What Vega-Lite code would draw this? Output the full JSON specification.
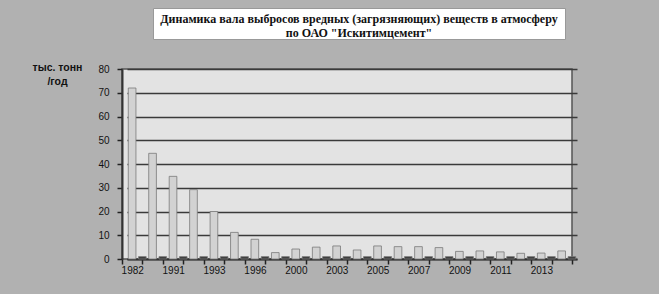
{
  "$schema": "https://vega.github.io/schema/vega-lite/v6.json",
  "background": "#b1b1b1",
  "padding": {"left": 31, "top": 7, "right": 88, "bottom": 23},
  "spacing": 21,
  "config": {"font": "Liberation Sans"},
  "vconcat": [
    {
      "spacing": 0,
      "hconcat": [
        {
          "width": 30,
          "height": 31,
          "data": {"values": []},
          "mark": "text",
          "view": {"stroke": null}
        },
        {
          "width": 412,
          "height": 31,
          "data": {"values": [{"title": "Динамика вала выбросов вредных (загрязняющих) веществ  в атмосферу\nпо  ОАО \"Искитимцемент\""}]},
          "mark": {"type": "text", "font": "Liberation Serif", "fontWeight": "bold", "fontSize": 12, "lineHeight": 14, "lineBreak": "\n", "align": "center", "baseline": "middle", "dy": -5, "color": "#111"},
          "encoding": {"text": {"field": "title"}},
          "view": {"fill": "white", "stroke": "#999999"}
        }
      ]
    },
    {
      "width": 450,
      "height": 190,
      "data": {"values": [
        {"year": 1982, "series": "A", "value": 72},
        {"year": 1990, "series": "A", "value": 44.5},
        {"year": 1991, "series": "A", "value": 34.8},
        {"year": 1992, "series": "A", "value": 29.2},
        {"year": 1993, "series": "A", "value": 20},
        {"year": 1995, "series": "A", "value": 11.2},
        {"year": 1996, "series": "A", "value": 8.3},
        {"year": 1998, "series": "A", "value": 2.7},
        {"year": 2000, "series": "A", "value": 4.2},
        {"year": 2002, "series": "A", "value": 5.0},
        {"year": 2003, "series": "A", "value": 5.5},
        {"year": 2004, "series": "A", "value": 3.8},
        {"year": 2005, "series": "A", "value": 5.5},
        {"year": 2006, "series": "A", "value": 5.2},
        {"year": 2007, "series": "A", "value": 5.2},
        {"year": 2008, "series": "A", "value": 4.8},
        {"year": 2009, "series": "A", "value": 3.2},
        {"year": 2010, "series": "A", "value": 3.4},
        {"year": 2011, "series": "A", "value": 3.0},
        {"year": 2012, "series": "A", "value": 2.4},
        {"year": 2013, "series": "A", "value": 2.5},
        {"year": 2014, "series": "A", "value": 3.4},
        {"year": 1982, "series": "B", "value": 1},
        {"year": 1990, "series": "B", "value": 1},
        {"year": 1991, "series": "B", "value": 1},
        {"year": 1992, "series": "B", "value": 1},
        {"year": 1993, "series": "B", "value": 1},
        {"year": 1995, "series": "B", "value": 1},
        {"year": 1996, "series": "B", "value": 1},
        {"year": 1998, "series": "B", "value": 1},
        {"year": 2000, "series": "B", "value": 1},
        {"year": 2002, "series": "B", "value": 1},
        {"year": 2003, "series": "B", "value": 1},
        {"year": 2004, "series": "B", "value": 1},
        {"year": 2005, "series": "B", "value": 1},
        {"year": 2006, "series": "B", "value": 1},
        {"year": 2007, "series": "B", "value": 1},
        {"year": 2008, "series": "B", "value": 1},
        {"year": 2009, "series": "B", "value": 1},
        {"year": 2010, "series": "B", "value": 1},
        {"year": 2011, "series": "B", "value": 1},
        {"year": 2012, "series": "B", "value": 1},
        {"year": 2013, "series": "B", "value": 1},
        {"year": 2014, "series": "B", "value": 1}
      ]},
      "view": {"fill": "#e3e3e3", "stroke": "#555555", "strokeWidth": 1.5},
      "resolve": {"axis": {"x": "independent"}},
      "layer": [
        {
          "mark": {"type": "bar", "stroke": "#7a7a7a", "strokeWidth": 0.8},
          "encoding": {
            "x": {
              "field": "year", "type": "ordinal",
              "scale": {"range": [5, 455], "paddingInner": 0, "paddingOuter": 0},
              "axis": {"orient": "bottom", "bandPosition": 1, "tickExtra": true, "tickOffset": -5, "labels": false, "ticks": true, "tickSize": 5, "tickColor": "#222222", "tickWidth": 1.5, "domainColor": "#333333", "domainWidth": 2, "title": null, "grid": false}
            },
            "xOffset": {"field": "series", "scale": {"domain": ["A", "B"], "paddingInner": 0.25, "paddingOuter": 0.125}},
            "y": {
              "field": "value", "type": "quantitative",
              "scale": {"domain": [0, 80]},
              "axis": {"values": [0, 10, 20, 30, 40, 50, 60, 70, 80], "labelOverlap": false, "grid": true, "gridColor": "#3a3a3a", "gridWidth": 1.5, "domainColor": "#333333", "domainWidth": 2, "tickColor": "#222222", "tickSize": 5, "tickWidth": 1.5, "labelPadding": 8, "labelFont": "Liberation Sans", "labelFontSize": 10, "labelColor": "#111111", "title": ["тыс. тонн", "/год"], "titleAngle": 0, "titleAlign": "center", "titleBaseline": "top", "titleX": -65, "titleY": -7, "titleFont": "Liberation Sans", "titleFontSize": 10.5, "titleFontWeight": "bold", "titleLineHeight": 14, "titleColor": "#111111"}
            },
            "color": {"field": "series", "scale": {"domain": ["A", "B"], "range": ["#d2d2d2", "#3a3a3a"]}, "legend": null}
          }
        },
        {
          "mark": {"type": "text", "text": ""},
          "encoding": {
            "x": {
              "field": "year", "type": "ordinal",
              "axis": {"orient": "bottom", "values": [1982, 1991, 1993, 1996, 2000, 2003, 2005, 2007, 2009, 2011, 2013], "ticks": false, "tickSize": 0, "domain": false, "tickOffset": -5, "labelPadding": 6, "labelFont": "Liberation Sans", "labelFontSize": 10, "labelColor": "#111111", "labelAngle": 0, "title": null, "grid": false}
            }
          }
        }
      ]
    }
  ]
}
